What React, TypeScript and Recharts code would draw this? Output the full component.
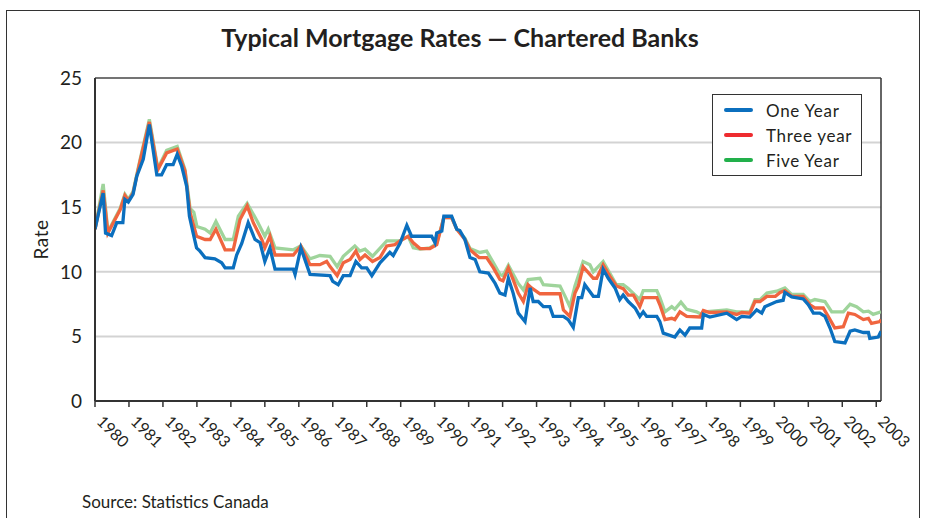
import React from "react";
import { LineChart, Line, XAxis, YAxis, CartesianGrid, ReferenceLine } from "recharts";

// Readings taken from the chart (decimal year, percent)
const yearTicks = [
  1980, 1981, 1982, 1983, 1984, 1985, 1986, 1987, 1988, 1989, 1990, 1991,
  1992, 1993, 1994, 1995, 1996, 1997, 1998, 1999, 2000, 2001, 2002, 2003,
];
const rateTicks = [0, 5, 10, 15, 20, 25];

const oneYearDates = [
  1980.0, 1980.24, 1980.31, 1980.49, 1980.64, 1980.82, 1980.88, 1980.98, 1981.12, 1981.23,
  1981.42, 1981.6, 1981.82, 1981.96, 1982.11, 1982.3, 1982.42, 1982.55, 1982.7, 1982.78,
  1982.89, 1982.99, 1983.09, 1983.24, 1983.53, 1983.73, 1983.83, 1984.07, 1984.17, 1984.32,
  1984.51, 1984.71, 1984.86, 1985.0, 1985.15, 1985.3, 1985.84, 1985.89, 1986.06, 1986.33, 1986.92,
  1987.0, 1987.16, 1987.31, 1987.51, 1987.68, 1987.85, 1988.0, 1988.15, 1988.39, 1988.68,
  1988.78, 1988.98, 1989.18, 1989.32, 1989.91, 1990.01, 1990.06, 1990.21, 1990.27, 1990.5,
  1990.65, 1990.74, 1990.89, 1991.04, 1991.19, 1991.33, 1991.58, 1991.78, 1991.92, 1992.07,
  1992.17, 1992.31, 1992.46, 1992.66, 1992.81, 1992.9, 1993.05, 1993.2, 1993.39, 1993.49,
  1993.79, 1993.93, 1994.08, 1994.23, 1994.33, 1994.42, 1994.67, 1994.82, 1994.96, 1995.11,
  1995.31, 1995.45, 1995.55, 1995.7, 1995.9, 1996.04, 1996.14, 1996.24, 1996.54, 1996.63,
  1996.73, 1997.07, 1997.22, 1997.37, 1997.51, 1997.86, 1997.91, 1998.1, 1998.6, 1998.89,
  1999.04, 1999.28, 1999.48, 1999.63, 1999.72, 2000.07, 2000.26, 2000.31, 2000.51, 2000.85,
  2001.0, 2001.15, 2001.34, 2001.49, 2001.64, 2001.78, 2002.08, 2002.23, 2002.37, 2002.62,
  2002.77, 2002.81, 2003.06, 2003.14,
];
const oneYearRates = [
  13.3, 16.1, 13.0, 12.8, 13.8, 13.8, 15.6, 15.4, 16.0, 17.4,
  18.7, 21.4, 17.5, 17.5, 18.3, 18.3, 19.1, 18.2, 16.6, 14.3,
  13.0, 11.85, 11.6, 11.1, 11.0, 10.7, 10.3, 10.3, 11.3, 12.2,
  13.8, 12.5, 12.25, 10.8, 11.85, 10.2, 10.2, 9.8, 11.85, 9.8, 9.7,
  9.26, 9.0, 9.7, 9.7, 10.8, 10.3, 10.3, 9.7, 10.7, 11.5,
  11.26, 12.2, 13.6, 12.75, 12.75, 12.25, 13.0, 13.15, 14.3, 14.3,
  13.3, 13.2, 12.5, 11.1, 10.95, 10.0, 9.9, 9.1, 8.35, 8.2,
  9.5, 8.35, 6.8, 6.15, 8.75, 7.7, 7.7, 7.3, 7.3, 6.55,
  6.55, 6.3, 5.7, 8.0, 8.0, 9.0, 8.1, 8.1, 10.2, 9.5,
  8.75, 7.85, 8.2, 7.7, 7.2, 6.55, 6.9, 6.55, 6.55, 6.15,
  5.25, 4.95, 5.5, 5.1, 5.65, 5.65, 6.7, 6.5, 6.8, 6.3,
  6.55, 6.5, 7.05, 6.8, 7.3, 7.7, 7.8, 8.4, 8.05, 7.9,
  7.45, 6.8, 6.8, 6.55, 5.65, 4.6, 4.5, 5.4, 5.5, 5.3,
  5.3, 4.85, 4.95, 5.4,
];

const threeYearDates = [
  1980.0, 1980.24, 1980.38, 1980.74, 1980.88, 1980.98, 1981.12, 1981.32, 1981.6, 1981.85,
  1982.11, 1982.42, 1982.65, 1982.8, 1982.99, 1983.24, 1983.39, 1983.56, 1983.83, 1984.07,
  1984.27, 1984.48, 1984.66, 1984.91, 1985.0, 1985.15, 1985.3, 1985.84, 1986.06, 1986.33, 1986.62,
  1986.82, 1986.92, 1987.13, 1987.31, 1987.51, 1987.68, 1987.8, 1987.95, 1988.17, 1988.39,
  1988.59, 1988.83, 1988.98, 1989.22, 1989.37, 1989.57, 1989.86, 1990.06, 1990.27, 1990.5,
  1990.65, 1990.89, 1991.04, 1991.31, 1991.53, 1991.73, 1991.92, 1992.01, 1992.17, 1992.31,
  1992.46, 1992.61, 1992.75, 1992.85, 1993.1, 1993.69, 1993.79, 1993.98, 1994.13, 1994.23,
  1994.37, 1994.67, 1994.77, 1994.96, 1995.16, 1995.35, 1995.55, 1995.7, 1995.85, 1996.04,
  1996.14, 1996.54, 1996.63, 1996.78, 1996.98, 1997.07, 1997.22, 1997.42, 1997.81, 1997.91,
  1998.1, 1998.6, 1998.89, 1999.04, 1999.28, 1999.43, 1999.58, 1999.78, 2000.03, 2000.17,
  2000.31, 2000.51, 2000.85, 2001.05, 2001.19, 2001.44, 2001.64, 2001.78, 2002.03, 2002.18,
  2002.37, 2002.62, 2002.77, 2002.86, 2003.11, 2003.14,
];
const threeYearRates = [
  13.3, 16.3, 13.0, 14.8, 15.9, 15.5, 16.1, 18.5, 21.6, 17.9,
  19.2, 19.5, 17.8, 14.6, 12.75, 12.5, 12.5, 13.3, 11.7, 11.7,
  14.05, 15.1, 13.8, 12.5, 11.85, 12.75, 11.3, 11.3, 12.0, 10.55, 10.55,
  10.8, 10.4, 9.7, 10.7, 10.95, 11.6, 10.95, 11.3, 10.8, 11.1,
  12.0, 12.1, 12.4, 12.75, 12.25, 11.8, 11.8, 12.1, 14.2, 14.2,
  13.3, 12.5, 11.7, 11.1, 11.1, 10.3, 9.4, 9.3, 10.3, 9.4,
  8.35, 7.7, 9.0, 8.75, 8.3, 8.3, 7.05, 6.55, 8.35, 8.9,
  10.4, 9.5, 9.5, 10.55, 9.65, 8.9, 8.7, 8.2, 8.2, 7.3,
  8.0, 8.0, 7.45, 6.3, 6.4, 6.3, 6.9, 6.55, 6.5, 7.0,
  6.85, 6.9, 6.7, 6.85, 6.8, 7.7, 7.7, 8.1, 8.1, 8.4,
  8.55, 8.1, 8.1, 7.45, 7.2, 7.2, 6.3, 5.65, 5.75, 6.8,
  6.7, 6.3, 6.4, 6.0, 6.15, 6.3,
];

const fiveYearDates = [
  1980.0, 1980.24, 1980.38, 1980.74, 1980.88, 1980.98, 1981.12, 1981.32, 1981.6, 1981.85,
  1982.11, 1982.42, 1982.65, 1982.8, 1982.91, 1983.0, 1983.24, 1983.39, 1983.56, 1983.83, 1984.07,
  1984.22, 1984.48, 1984.78, 1985.0, 1985.1, 1985.3, 1985.84, 1986.06, 1986.33, 1986.62, 1986.92,
  1987.13, 1987.31, 1987.65, 1987.8, 1987.95, 1988.17, 1988.59, 1988.98, 1989.22, 1989.37,
  1989.57, 1989.86, 1990.06, 1990.27, 1990.5, 1990.65, 1990.89, 1991.04, 1991.33, 1991.53,
  1991.73, 1991.92, 1992.01, 1992.17, 1992.46, 1992.61, 1992.75, 1993.1, 1993.2, 1993.69,
  1993.84, 1993.98, 1994.13, 1994.37, 1994.57, 1994.67, 1994.96, 1995.35, 1995.55, 1995.7,
  1996.04, 1996.14, 1996.54, 1996.63, 1996.78, 1996.98, 1997.07, 1997.25, 1997.42, 1997.71,
  1997.86, 1997.95, 1998.6, 1998.89, 1999.28, 1999.43, 1999.58, 1999.78, 2000.07, 2000.31,
  2000.51, 2000.85, 2001.05, 2001.19, 2001.49, 2001.69, 2002.03, 2002.23, 2002.42, 2002.62,
  2002.77, 2002.91, 2003.14,
];
const fiveYearRates = [
  13.3, 16.8, 13.1, 14.9, 16.0, 15.6, 16.2, 18.6, 21.8, 18.0,
  19.4, 19.7, 17.9, 14.9, 14.6, 13.5, 13.3, 13.0, 13.9, 12.5, 12.5,
  14.3, 15.3, 13.9, 12.75, 13.3, 11.85, 11.7, 12.0, 11.0, 11.26, 11.2,
  10.4, 11.2, 12.0, 11.6, 11.75, 11.2, 12.4, 12.4, 12.75, 11.85,
  11.75, 11.85, 12.2, 14.2, 14.2, 13.3, 12.6, 11.8, 11.5, 11.6,
  10.7, 9.8, 9.7, 10.5, 9.1, 8.6, 9.4, 9.5, 9.0, 8.9,
  8.1, 7.3, 8.9, 10.8, 10.55, 10.0, 10.8, 9.0, 9.0, 8.7,
  7.85, 8.55, 8.55, 8.0, 6.9, 7.3, 7.1, 7.65, 7.1, 6.9,
  6.7, 6.9, 7.05, 6.9, 6.9, 7.85, 7.85, 8.35, 8.5, 8.75,
  8.25, 8.25, 7.7, 7.85, 7.7, 6.9, 6.9, 7.5, 7.3, 6.9,
  6.95, 6.7, 6.9,
];

const toPoints = (dates: number[], rates: number[]) =>
  dates.map((t, i) => ({ t, rate: rates[i] }));

const oneYear = toPoints(oneYearDates, oneYearRates);
const threeYear = toPoints(threeYearDates, threeYearRates);
const fiveYear = toPoints(fiveYearDates, fiveYearRates);

const FONT = "Lato, 'Open Sans', sans-serif";
const INK = "#231f20";

const legendItems = [
  { label: "One Year", color: "#0b6fbe" },
  { label: "Three year", color: "#ee2b2f" },
  { label: "Five Year", color: "#22b04b" },
];

const YearTick = (props: any) => {
  const { x, y, payload } = props;
  return (
    <g transform={`translate(${x},${y})`}>
      <text
        x={10}
        y={9}
        transform="rotate(45)"
        textAnchor="start"
        fill={INK}
        fontSize={16}
        fontFamily={FONT}
      >
        {payload.value}
      </text>
    </g>
  );
};

export default function App() {
  return (
    <div style={{ position: "relative", width: 925, height: 518, background: "#fff", overflow: "hidden", fontFamily: FONT }}>
      <style>{"body{margin:0}"}</style>
      {/* outer frame */}
      <div
        style={{
          position: "absolute",
          left: 6,
          top: 10,
          width: 912,
          height: 520,
          borderTop: "1.5px solid #333",
          borderLeft: "1.5px solid #333",
          borderRight: "1.5px solid #333",
        }}
      />
      <div
        style={{
          position: "absolute",
          left: 0,
          top: 22,
          width: 920,
          textAlign: "center",
          fontSize: 25,
          fontWeight: 700,
          color: INK,
          lineHeight: "30px",
        }}
      >
        Typical Mortgage Rates — Chartered Banks
      </div>
      <div style={{ position: "absolute", left: 0, top: 0 }}>
        <LineChart width={925} height={518} margin={{ top: 78, right: 44, bottom: 57, left: 35 }}>
          <CartesianGrid vertical={false} stroke="#d3d3d3" strokeWidth={2} />
          <XAxis
            dataKey="t"
            type="number"
            domain={[1980, 2003.14]}
            ticks={yearTicks}
            interval={0}
            height={60}
            tick={<YearTick />}
            axisLine={{ stroke: "#333", strokeWidth: 2 }}
            tickLine={{ stroke: "#333", strokeWidth: 1.5 }}
            allowDataOverflow
          />
          <YAxis
            domain={[0, 25]}
            ticks={rateTicks}
            width={60}
            tickLine={false}
            tickSize={0}
            tickMargin={13}
            axisLine={{ stroke: "#333", strokeWidth: 2 }}
            tick={{ fontSize: 19, fill: INK, fontFamily: FONT }}
            label={{
              value: "Rate",
              angle: -90,
              position: "insideLeft",
              offset: 0,
              dx: 6,
              style: { fontSize: 19, fill: INK, fontFamily: FONT, textAnchor: "middle", letterSpacing: 0.5 },
            }}
          />
          <ReferenceLine y={25} stroke="#555" strokeWidth={1.5} />
          <ReferenceLine x={2003.14} stroke="#333" strokeWidth={1.5} />
          <Line
            data={fiveYear}
            dataKey="rate"
            type="linear"
            stroke="#9fd49b"
            strokeWidth={3.3}
            dot={false}
            isAnimationActive={false}
          />
          <Line
            data={threeYear}
            dataKey="rate"
            type="linear"
            stroke="#f0653f"
            strokeWidth={3.3}
            dot={false}
            isAnimationActive={false}
          />
          <Line
            data={oneYear}
            dataKey="rate"
            type="linear"
            stroke="#0b6fbe"
            strokeWidth={3.3}
            dot={false}
            isAnimationActive={false}
          />
        </LineChart>
      </div>
      {/* legend */}
      <div
        style={{
          position: "absolute",
          left: 712,
          top: 94,
          width: 148,
          height: 80,
          border: "1px solid #333",
          background: "#fff",
        }}
      >
        {legendItems.map((item, i) => (
          <div
            key={item.label}
            style={{ position: "absolute", left: 11, top: 4 + i * 25, height: 22, display: "flex", alignItems: "center" }}
          >
            <div style={{ width: 29, height: 4, borderRadius: 2, background: item.color }} />
            <span style={{ marginLeft: 13, fontSize: 17, color: INK, letterSpacing: 0.7 }}>{item.label}</span>
          </div>
        ))}
      </div>
      <div style={{ position: "absolute", left: 82, top: 491, fontSize: 17, color: INK }}>
        Source: Statistics Canada
      </div>
    </div>
  );
}
